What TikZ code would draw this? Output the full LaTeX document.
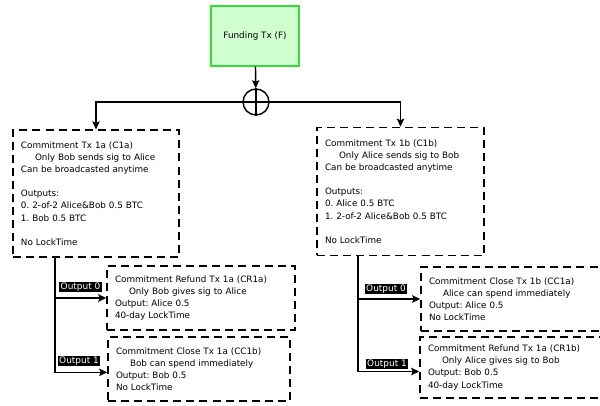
\documentclass[tikz,border=0pt]{standalone}
\usepackage{fontspec}
\setmainfont{DejaVu Sans}
\usetikzlibrary{arrows.meta,positioning}
\definecolor{fundfill}{RGB}{208,255,208}
\definecolor{fundline}{RGB}{51,221,51}
\tikzset{
  txbox/.style 2 args={draw,dash pattern=on 6pt off 3.8pt,line width=1.1pt,
    align=left,inner xsep=6pt,inner ysep=0pt,text width=#1,minimum height=#2,
    font=\fontsize{6.6}{9.1}\selectfont},
  outlbl/.style={fill=black,text=white,inner xsep=1.2pt,inner ysep=0.6pt,
    font=\fontsize{6.7}{7}\selectfont},
  link/.style={line width=1.1pt,-{Stealth[length=6pt,width=5.5pt,inset=1pt]}},
}
\newcommand{\ind}{\hspace*{10.5pt}}
\frenchspacing
\begin{document}
\begin{tikzpicture}[x=0.75pt,y=-0.75pt]
\useasboundingbox (0,0) rectangle (600,406);
\clip (0,0) rectangle (600,406);

% funding and the split
\node[draw=fundline,fill=fundfill,line width=1.1pt,minimum width=66pt,minimum height=45pt,
  font=\fontsize{6.6}{8}\selectfont] (fund) at (255,36) {Funding Tx (F)};
\node[circle,draw,line width=1.1pt,minimum size=19.5pt,inner sep=0pt] (xor) at (256,102) {};
\draw[line width=1.1pt] (xor.north) -- (xor.south) (xor.west) -- (xor.east);

% commitment txs
\node[txbox={112.5pt}{95pt}] (c1a) at (96,193.5) {Commitment Tx 1a (C1a)\\
\ind Only Bob sends sig to Alice\\
Can be broadcasted anytime\\[9.1pt]
Outputs:\\
0. 2-of-2 Alice\&Bob 0.5 BTC\\
1. Bob 0.5 BTC\\[9.1pt]
No LockTime};
\node[txbox={113.25pt}{96pt}] (c1b) at (400.5,191.5) {Commitment Tx 1b (C1b)\\
\ind Only Alice sends sig to Bob\\
Can be broadcasted anytime\\[9.1pt]
Outputs:\\
0. Alice 0.5 BTC\\
1. 2-of-2 Alice\&Bob 0.5 BTC\\[9.1pt]
No LockTime};

% spending txs
\node[txbox={129pt}{48pt}] (cr1a) at (201,298) {Commitment Refund Tx 1a (CR1a)\\
\ind Only Bob gives sig to Alice\\
Output: Alice 0.5\\
40-day LockTime};
\node[txbox={124.5pt}{48pt}] (cc1b) at (199,369) {Commitment Close Tx 1a (CC1b)\\
\ind Bob can spend immediately\\
Output: Bob 0.5\\
No LockTime};
\node[txbox={138pt}{48pt}] (cc1a) at (521,299) {Commitment Close Tx 1b (CC1a)\\
\ind Alice can spend immediately\\
Output: Alice 0.5\\
No LockTime};
\node[txbox={138pt}{46pt}] (cr1b) at (520,367.5) {Commitment Refund Tx 1a (CR1b)\\
\ind Only Alice gives sig to Bob\\
Output: Bob 0.5\\
40-day LockTime};

\coordinate (tap1a) at (55,257);
\coordinate (tap1b) at (358,256);

\draw[link] (fund) -- (xor);
\draw[link] (xor.west) -| (c1a.north);
\draw[link] (xor.east) -| (c1b.north);

\draw[link] (tap1a) |- (cr1a.west);
\draw[link] (tap1a) |- ([yshift=-2.5pt]cc1b.west);
\draw[link] (tap1b) |- (cc1a.west);
\draw[link] (tap1b) |- ([yshift=-3pt]cr1b.west);

\node[outlbl] (out0a) at (80.5,287) {Output 0};
\node[outlbl] (out1a) at (79,361) {Output 1};
\node[outlbl] (out0b) at (386,289) {Output 0};
\node[outlbl] (out1b) at (387,364) {Output 1};
\end{tikzpicture}
\end{document}
